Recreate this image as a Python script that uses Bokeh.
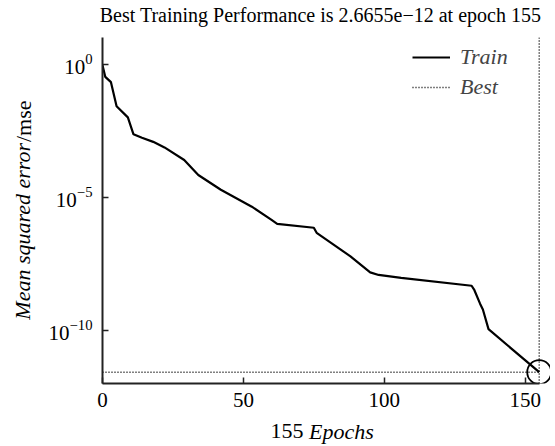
from bokeh.plotting import figure
from bokeh.models import Legend, LegendItem, FixedTicker, Range1d, LinearAxis, LogAxis
from bokeh.embed import file_html
from bokeh.resources import INLINE

# ---- data ----
epochs = [0, 1, 3, 5, 9, 11, 14, 18, 22, 29, 34, 42, 53, 60, 62, 75, 76, 88, 95, 98, 106, 131, 132, 134, 135, 137, 155]
train_mse = [0.91, 0.33, 0.21, 2.6e-2, 1.0e-2, 2.3e-3, 1.7e-3, 1.2e-3, 7.4e-4, 2.5e-4, 6.8e-5, 1.9e-5,
             4.4e-6, 1.4e-6, 1.0e-6, 7.1e-7, 4.6e-7, 6.0e-8, 1.5e-8, 1.2e-8, 9.3e-9, 4.7e-9, 3.2e-9,
             1.0e-9, 6.0e-10, 1.1e-10, 2.6655e-12]
best_epoch = 155
best_mse = 2.6655e-12
x_limits = [0, 155]
y_limits = [1e-12, 1e1]
x_ticks = [0, 50, 100, 150]
y_ticks = [1e-10, 1e-5, 1e0]
title_text = "Best Training Performance is 2.6655e\u221212 at epoch 155"
xlabel_parts = ["155", "Epochs"]
ylabel_parts = ["Mean squared error", "/mse"]
legend_labels = ["Train", "Best"]

# ---- layout constants ----
W, H = 550, 446
FL, FT, FB = 102, 37, 383          # frame left / top / bottom (px)
X_END = 159.0                       # visible x extent (room for the best-point circle)
FONT = "Liberation Serif"

p = figure(width=W, height=H, output_backend="svg", toolbar_location=None,
           y_axis_type="log",
           x_range=Range1d(x_limits[0], X_END), y_range=Range1d(*y_limits),
           min_border_left=FL, min_border_right=0, min_border_top=FT, min_border_bottom=H - FB)
p.outline_line_color = None
p.xgrid.visible = False
p.ygrid.visible = False
p.background_fill_color = "white"
p.border_fill_color = "white"

for ax in (p.xaxis[0], p.yaxis[0]):
    ax.axis_line_width = 2
    ax.axis_line_color = "#222222"
    ax.major_tick_line_color = "#222222"
    ax.major_tick_line_width = 1.5
    ax.major_tick_in = 6
    ax.major_tick_out = 0
    ax.minor_tick_line_color = None
    ax.major_label_text_font = FONT
    ax.major_label_text_font_size = "21px"
    ax.major_label_text_color = "black"

p.xaxis.ticker = FixedTicker(ticks=x_ticks)
p.yaxis.ticker = FixedTicker(ticks=y_ticks)
p.xaxis.bounds = tuple(x_limits)
p.xaxis.major_label_standoff = 9
p.yaxis.major_label_standoff = 10

# ---- marks ----
train_r = p.line(epochs, train_mse, line_color="black", line_width=2.2)
best_h = p.line(x_limits, [best_mse, best_mse], line_color="black", line_width=1.5, line_dash="1 2")
best_v = p.line([best_epoch, best_epoch], y_limits, line_color="black", line_width=1.5, line_dash="1 2")
p.scatter([best_epoch], [best_mse], marker="circle", size=24, fill_alpha=0,
          line_color="black", line_width=1.8)

legend = Legend(items=[LegendItem(label=legend_labels[0], renderers=[train_r]),
                       LegendItem(label=legend_labels[1], renderers=[best_h])],
                location=(310, 283), border_line_color=None, background_fill_alpha=0,
                glyph_width=38, glyph_height=20, label_standoff=10, spacing=4,
                padding=0, margin=0,
                label_text_font=FONT, label_text_font_size="22px", label_text_font_style="italic")
p.add_layout(legend)

# ---- title and axis titles (mixed styles) drawn as label-only side axes ----
def x_at(px):
    return (px - FL) / (W - FL) * X_END

def y_at(px):
    return 10 ** (1 - (px - FT) / ((FB - FT) / 13.0))

def label_axis(cls, side, pos, text, italic, standoff, size="22px", vertical=False):
    ax = cls(ticker=FixedTicker(ticks=[pos]), major_label_overrides={pos: text})
    ax.axis_line_color = None
    ax.major_tick_line_color = None
    ax.major_tick_in = 0
    ax.major_tick_out = 0
    ax.minor_tick_line_color = None
    ax.minor_tick_in = 0
    ax.minor_tick_out = 0
    ax.major_label_text_font = FONT
    ax.major_label_text_font_size = size
    ax.major_label_text_color = "black"
    ax.major_label_text_font_style = "italic" if italic else "normal"
    ax.major_label_standoff = standoff
    if vertical:
        ax.major_label_orientation = "vertical"
    p.add_layout(ax, side)

label_axis(LinearAxis, "above", x_at(320), title_text, False, 12, size="20px")
label_axis(LinearAxis, "below", x_at(286.5), xlabel_parts[0], False, 14)
label_axis(LinearAxis, "below", x_at(340.9), xlabel_parts[1], True, -22)
label_axis(LogAxis, "left", y_at(230.8), ylabel_parts[0], True, 10, vertical=True)
label_axis(LogAxis, "left", y_at(120.8), ylabel_parts[1], False, -29, vertical=True)

open("out.html", "w").write(file_html(p, INLINE))
